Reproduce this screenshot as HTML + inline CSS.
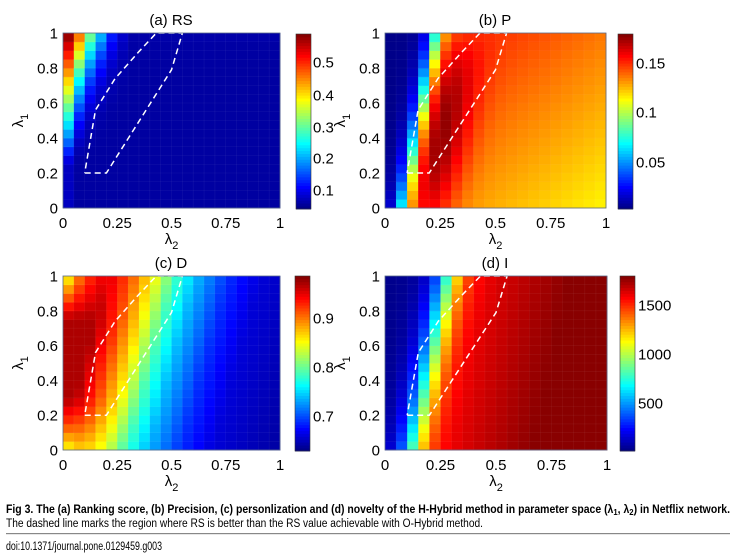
<!DOCTYPE html>
<html><head><meta charset="utf-8">
<style>
html,body{margin:0;padding:0;background:#fff;}
svg{display:block;font-family:"Liberation Sans",Arial,sans-serif;}
</style></head>
<body>
<svg id="s" width="754" height="557" viewBox="0 0 754 557" xmlns="http://www.w3.org/2000/svg">
<rect width="754" height="557" fill="#fff"/>
<g id="plots"></g>
<g font-size="15" fill="#000">
 <text x="171" y="25" text-anchor="middle">(a) RS</text>
 <text x="495" y="25" text-anchor="middle">(b) P</text>
 <text x="171" y="268" text-anchor="middle">(c) D</text>
 <text x="495" y="268" text-anchor="middle">(d) I</text>
</g>
<g font-size="11.5" fill="#000">
 <text x="6" y="513" font-weight="bold" textLength="724" lengthAdjust="spacingAndGlyphs">Fig 3. The (a) Ranking score, (b) Precision, (c) personlization and (d) novelty of the H-Hybrid method in parameter space (λ<tspan font-size="8.5" dy="2">1</tspan><tspan dy="-2">, λ</tspan><tspan font-size="8.5" dy="2">2</tspan><tspan dy="-2">) in Netflix network.</tspan></text>
 <text x="6" y="527" textLength="477" lengthAdjust="spacingAndGlyphs">The dashed line marks the region where RS is better than the RS value achievable with O-Hybrid method.</text>
 <rect x="6" y="533" width="724" height="1.2" fill="#888"/>
 <text x="6" y="550" textLength="156" lengthAdjust="spacingAndGlyphs">doi:10.1371/journal.pone.0129459.g003</text>
</g>
</svg>
<script>
function clamp(v,a,b){return v<a?a:(v>b?b:v);}
function jet(t){t=clamp(t,0,1);
 var r=clamp(1.5-Math.abs(4*t-3),0,1),g=clamp(1.5-Math.abs(4*t-2),0,1),b=clamp(1.5-Math.abs(4*t-1),0,1);
 return "rgb("+Math.round(r*255)+","+Math.round(g*255)+","+Math.round(b*255)+")";}
function lg(z){return 1/(1+Math.exp(-z));}
function interp(tab,u){if(u<=tab[0][0])return tab[0][1];
 for(var i=1;i<tab.length;i++){if(u<=tab[i][0]){var a=tab[i-1],b=tab[i];return a[1]+(b[1]-a[1])*(u-a[0])/(b[0]-a[0]);}}
 return tab[tab.length-1][1];}
function RS(x,y,j){var tops=[0.57,0.45,0.30,0.20,0.12,0.08];
 var base=j==0?0.075:0.058;var top=j<6?tops[j]:0.062;
 var f=clamp((y-0.25)/0.72,0,1);var p=j==0?1:1+0.8*j;
 return base+(top-base)*Math.pow(f,p);}
function P(x,y){var front=0.08+0.15*y;var d=x-front;
 var far=0.114+0.022*y+0.025*(1-x);
 var peak=0.178-0.025*Math.pow((y-0.45)/0.5,2);
 var T=far+(peak-far)*Math.exp(-Math.pow((d-0.1)/0.13,2));
 return 0.004+(T-0.004)*lg(d/0.025);}
var DT=[[-0.2,0.97],[0.1,0.97],[0.2,0.92],[0.3,0.86],[0.4,0.79],[0.5,0.74],[0.65,0.69],[0.8,0.66],[1.2,0.635]];
function D(x,y){var u=x-0.22*(y-0.5);var v=interp(DT,u);
 var r=(Math.max(0,y-0.75)/0.25*0.15+Math.max(0,0.3-y)/0.3*0.13)*Math.exp(-x/0.1);return v-r;}
function I(x,y){var front=0.12+0.16*y;var d=x-front;
 var Pv=1540+240*clamp(d/0.55,0,1);return 30+(Pv-30)*lg(d/0.04);}
var panels=[
 {x:63,y:33,w:217,h:175,f:RS,lo:0.04,hi:0.587,cb:[296,34,15,175],ticks:[["0.5",62],["0.4",95],["0.3",127],["0.2",158],["0.1",190]],tx:313},
 {x:385,y:33,w:221,h:175,f:P,lo:0.0025,hi:0.179,cb:[618,34,15,175],ticks:[["0.15",63],["0.1",112],["0.05",162]],tx:636},
 {x:63,y:276,w:217,h:174,f:D,lo:0.629,hi:0.986,cb:[295,276,15,175],ticks:[["0.9",318],["0.8",367],["0.7",416]],tx:313},
 {x:385,y:276,w:222,h:174,f:I,lo:10,hi:1796,cb:[620,276,15,175],ticks:[["1500",305],["1000",354],["500",403]],tx:638}];
var out="";var N=20;
panels.forEach(function(p){
 var cw=p.w/N,ch=p.h/N;
 for(var j=0;j<N;j++)for(var i=0;i<N;i++){
  var xc=(j+0.5)/N,yc=(i+0.5)/N;var v=p.f(xc,yc,j);
  var t=(v-p.lo)/(p.hi-p.lo);
  out+='<rect x="'+(p.x+j*cw).toFixed(2)+'" y="'+(p.y+p.h-(i+1)*ch).toFixed(2)+'" width="'+(cw+0.4).toFixed(2)+'" height="'+(ch+0.4).toFixed(2)+'" fill="'+jet(t)+'"/>';}
 for(var k=1;k<N;k++){out+='<line x1="'+(p.x+k*cw)+'" y1="'+p.y+'" x2="'+(p.x+k*cw)+'" y2="'+(p.y+p.h)+'" stroke="#fff" stroke-opacity="0.07" stroke-width="0.6"/>';
  out+='<line x1="'+p.x+'" y1="'+(p.y+k*ch)+'" x2="'+(p.x+p.w)+'" y2="'+(p.y+k*ch)+'" stroke="#fff" stroke-opacity="0.07" stroke-width="0.6"/>';}
 var pts=[[0.1,0.2],[0.2,0.2],[0.5,0.79],[0.55,1.0],[0.43,1.0],[0.347,0.89],[0.24,0.74],[0.15,0.56],[0.1,0.2]];
 out+='<polyline fill="none" stroke="#fff" stroke-width="1.5" stroke-dasharray="6,4" points="'+pts.map(function(q){return (p.x+q[0]*p.w).toFixed(1)+','+(p.y+p.h-q[1]*p.h).toFixed(1);}).join(' ')+'"/>';
 out+='<rect x="'+p.x+'" y="'+p.y+'" width="'+p.w+'" height="'+p.h+'" fill="none" stroke="#5a6a8a" stroke-width="0.8"/>';
 var yl=["0","0.2","0.4","0.6","0.8","1"];
 for(var k=0;k<6;k++){out+='<text x="'+(p.x-5)+'" y="'+(p.y+p.h-k*0.2*p.h+5.5)+'" text-anchor="end" font-size="15">'+yl[k]+'</text>';}
 var xl=["0","0.25","0.5","0.75","1"];
 for(var k=0;k<5;k++){out+='<text x="'+(p.x+k*0.25*p.w)+'" y="'+(p.y+p.h+20)+'" text-anchor="middle" font-size="15">'+xl[k]+'</text>';}
 out+='<text x="'+(p.x+p.w/2)+'" y="'+(p.y+p.h+36)+'" text-anchor="middle" font-size="15">λ<tspan font-size="11" dy="5">2</tspan></text>';
 out+='<text transform="translate('+(p.x-40)+','+(p.y+p.h/2)+') rotate(-90)" text-anchor="middle" font-size="15">λ<tspan font-size="11" dy="5">1</tspan></text>';
 var c=p.cb;var M=60;
 for(var k=0;k<M;k++){out+='<rect x="'+c[0]+'" y="'+(c[1]+c[3]-(k+1)*c[3]/M).toFixed(2)+'" width="'+c[2]+'" height="'+(c[3]/M+0.4).toFixed(2)+'" fill="'+jet((k+0.5)/M)+'"/>';}
 out+='<rect x="'+c[0]+'" y="'+c[1]+'" width="'+c[2]+'" height="'+c[3]+'" fill="none" stroke="#333" stroke-width="0.6"/>';
 p.ticks.forEach(function(tk){out+='<text x="'+p.tx+'" y="'+(tk[1]+5.5)+'" font-size="15">'+tk[0]+'</text>';});
});
document.getElementById("plots").innerHTML=out;
</script>
</body></html>
